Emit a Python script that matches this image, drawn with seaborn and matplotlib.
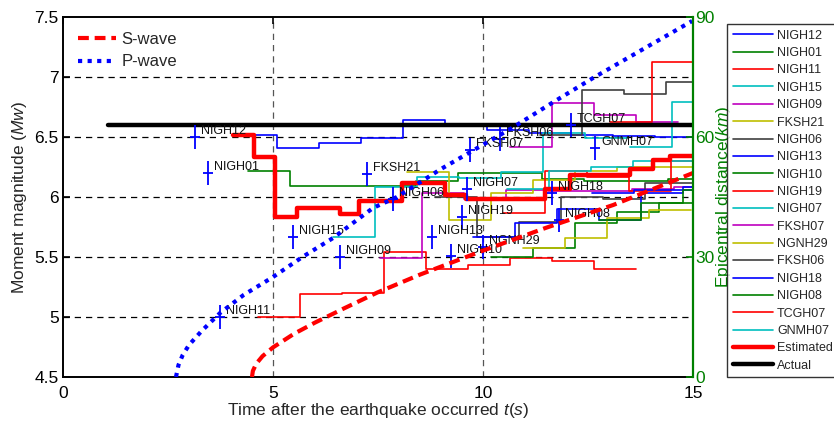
import numpy as np
import pandas as pd
import matplotlib
matplotlib.use("Agg")
import matplotlib.pyplot as plt
import seaborn as sns
from matplotlib.lines import Line2D

# ---------------- data ----------------
stations = ["NIGH12", "NIGH01", "NIGH11", "NIGH15", "NIGH09", "FKSH21", "NIGH06",
            "NIGH13", "NIGH10", "NIGH19", "NIGH07", "FKSH07", "NGNH29", "FKSH06",
            "NIGH18", "NIGH08", "TCGH07", "GNMH07"]
# first estimate time of each station (s); later estimates every 1 s
start_times = [4.10, 4.40, 4.64, 6.43, 7.55, 8.20, 8.85, 9.75, 10.20, 10.48,
               10.57, 10.64, 10.95, 11.36, 12.60, 12.76, 13.02, 13.50]
nigh12 = [6.52, 6.41, 6.45, 6.49, 6.64, 6.60, 6.56, 6.53, 6.52, 6.51, 6.50]
nigh01 = [6.22, 6.09, 6.09, 6.09, 6.13, 6.20, 6.20, 6.15, 6.13, 6.13, 6.15]
nigh11 = [5.00, 5.19, 5.20, 5.54, 5.40, 5.43, 5.49, 5.47, 5.40]
nigh15 = [5.67, 6.08, 6.17, 6.16, 6.21, 6.53, 6.49]
nigh09 = [5.49, 6.03, 5.98, 6.06, 6.05, 6.05, 6.07, 6.08]
fksh21 = [6.21, 5.81, 6.03, 6.14, 6.22, 6.25, 6.25]
nigh06 = [6.00, 5.67, 5.79, 6.00, 5.98, 6.12, 6.12]
nigh13 = [5.67, 5.78, 5.90, 5.81, 6.03, 6.08]
nigh10 = [5.50, 5.575, 5.78, 5.875, 5.95]
nigh19 = [5.87, 6.22, 6.17, 6.05, 6.30]
nigh07 = [6.07, 6.22, 6.25, 6.30, 6.30]
fksh07 = [6.42, 6.78, 6.68, 6.625]
ngnh29 = [5.575, 5.66, 5.825, 5.89]
fksh06 = [6.52, 6.89, 6.86, 6.96]
nigh18 = [6.03, 6.06, 6.06]
nigh08 = [5.81, 5.95, 6.06]
tcgh07 = [6.625, 7.125]
gnmh07 = [6.42, 6.79]
station_mags = [nigh12, nigh01, nigh11, nigh15, nigh09, fksh21, nigh06, nigh13, nigh10,
                nigh19, nigh07, fksh07, ngnh29, fksh06, nigh18, nigh08, tcgh07, gnmh07]

# station trigger markers (time, magnitude)
marker_t = [3.14, 3.45, 3.74, 5.48, 6.60, 7.24, 7.86, 8.79, 9.24, 9.50, 9.62, 9.69,
            10.00, 10.40, 11.64, 11.81, 12.10, 12.67]
marker_m = [6.50, 6.20, 5.00, 5.67, 5.50, 6.19, 5.98, 5.67, 5.51, 5.83, 6.07, 6.39,
            5.58, 6.48, 6.03, 5.81, 6.60, 6.41]
marker_err = 0.1

# estimated magnitude (steps)
est_t = [4.05, 4.55, 5.05, 5.57, 6.60, 7.05, 8.07, 9.10, 9.60, 11.48, 12.07, 13.50, 14.05, 14.45, 15.0]
est_m = [6.52, 6.33, 5.83, 5.91, 5.86, 5.97, 6.12, 6.02, 5.98, 6.07, 6.18, 6.23, 6.31, 6.34, 6.34]
# actual magnitude
act_t = [1.07, 15.0]
act_m = [6.6, 6.6]

# wave fronts: epicentral distance (km) vs time (s)
p_t = [2.69, 2.75, 2.85, 3.0, 3.3, 3.74, 4.3, 5.0, 5.7, 6.43, 7.38, 7.95, 9.0, 10.69, 11.64, 12.62, 13.9, 14.98]
p_d = [0, 3.0, 5.5, 8.0, 11.5, 16.0, 20.5, 25.0, 30.0, 34.75, 42.25, 45.0, 52.0, 62.25, 68.5, 74.75, 82.5, 89.0]
s_t = [4.5, 4.52, 4.6, 4.75, 5.0, 5.5, 6.0, 6.7, 7.48, 8.5, 10.0, 11.5, 13.1, 15.0]
s_d = [0, 1.5, 3.3, 5.2, 7.4, 10.8, 13.6, 17.2, 21.1, 25.6, 31.6, 37.3, 43.0, 51.0]

# ---------------- styling ----------------
cycle = [(0, 0, 1), (0, 0.5, 0), (1, 0, 0), (0, 0.75, 0.75), (0.75, 0, 0.75),
         (0.75, 0.75, 0), (0.25, 0.25, 0.25)]
palette = {s: cycle[i % 7] for i, s in enumerate(stations)}
green = (0, 0.5, 0)

sns.set_theme(style="white")
plt.rcParams["font.family"] = ["Liberation Sans", "DejaVu Sans"]
plt.rcParams["mathtext.fontset"] = "custom"
plt.rcParams["mathtext.rm"] = "Liberation Sans"
plt.rcParams["mathtext.it"] = "Liberation Sans:italic"

fig = plt.figure(figsize=(8.34, 4.22), dpi=100)
ax = fig.add_axes([63 / 834, 45 / 422, 630 / 834, 360 / 422])
ax.set_facecolor("white")

# station lines
rows = []
for name, st, vals in zip(stations, start_times, station_mags):
    ts = [st + i for i in range(len(vals))]
    ts.append(min(st + len(vals), 15.0))
    vs = list(vals) + [vals[-1]]
    for t, v in zip(ts, vs):
        rows.append({"station": name, "t": t, "M": v})
df = pd.DataFrame(rows)
sns.lineplot(data=df, x="t", y="M", hue="station", hue_order=stations, palette=palette,
             estimator=None, sort=False, drawstyle="steps-post", lw=1.2, legend=False, ax=ax)

sns.lineplot(x=est_t, y=est_m, color="red", lw=3.2, drawstyle="steps-post",
             estimator=None, sort=False, ax=ax)
sns.lineplot(x=act_t, y=act_m, color="black", lw=3.2, estimator=None, sort=False, ax=ax)

# trigger markers
ax.errorbar(marker_t, marker_m, yerr=marker_err, fmt="none", ecolor="blue", elinewidth=1.3, capsize=0)
ax.plot(marker_t, marker_m, ls="none", marker="_", ms=7, mew=1.3, color="blue")
for name, x, y in zip(stations, marker_t, marker_m):
    ax.annotate(name, (x, y), xytext=(6, 6), textcoords="offset pixels", fontsize=9,
                va="center", ha="left", color="#111111")

ax.set_xlim(0, 15)
ax.set_ylim(4.5, 7.5)
ax.set_xticks([0, 5, 10, 15])
ax.set_yticks([4.5, 5, 5.5, 6, 6.5, 7, 7.5])
ax.set_yticklabels(["4.5", "5", "5.5", "6", "6.5", "7", "7.5"])
for yv in [5, 5.5, 6, 6.5, 7]:
    ax.axhline(yv, color="black", lw=0.9, ls=(0, (5, 4)), zorder=0.5)
for xv in [5, 10]:
    ax.axvline(xv, color="#555555", lw=0.9, ls=(0, (5, 4)), zorder=0.5)
ax.tick_params(direction="in", length=5, width=1.2, labelsize=12.5, top=True, right=False,
               colors="black")
ax.tick_params(axis="x", pad=6.5)
ax.tick_params(axis="y", pad=3)
for sp in ["left", "bottom", "top"]:
    ax.spines[sp].set_linewidth(1.4)
    ax.spines[sp].set_color("black")
ax.spines["right"].set_visible(False)
ax.set_xlabel(r"Time after the earthquake occurred $\mathit{t(s)}$", fontsize=12.5, labelpad=0)
ax.set_ylabel(r"Moment magnitude ($\mathit{Mw}$)", fontsize=12.5, labelpad=4)

# right axis: epicentral distance
ax2 = ax.twinx()
ax2.set_ylim(0, 90)
ax2.set_yticks([0, 30, 60, 90])
sns.lineplot(x=s_t, y=s_d, color="red", lw=3.0, linestyle=(0, (2.6, 1.4)), estimator=None,
             sort=False, ax=ax2, label="S-wave")
sns.lineplot(x=p_t, y=p_d, color="blue", lw=3.0, linestyle=(0, (1, 1.3)), estimator=None,
             sort=False, ax=ax2, label="P-wave")
ax2.set_xlim(0, 15)
for sp in ["left", "bottom", "top"]:
    ax2.spines[sp].set_visible(False)
ax2.spines["right"].set_color(green)
ax2.spines["right"].set_linewidth(1.6)
ax2.tick_params(direction="in", length=5, width=1.2, labelsize=12.5, colors=green, pad=1.5)
ax2.set_ylabel(r"Epicentral distance($\mathit{km}$)", fontsize=12.5, color=green, labelpad=0)
leg1 = ax2.legend(loc="upper left", bbox_to_anchor=(0.0, 1.0), frameon=False, fontsize=12,
                  handlelength=2.3, handletextpad=0.3, labelspacing=0.45, borderaxespad=0.5)

# station legend
handles = [Line2D([], [], color=palette[s], lw=1.2) for s in stations]
handles += [Line2D([], [], color="red", lw=3.2), Line2D([], [], color="black", lw=3.2)]
labels = stations + ["Estimated", "Actual"]
leg = fig.legend(handles, labels, loc="upper left", bbox_to_anchor=(727 / 834, 1 - 24 / 422),
                 frameon=True, fancybox=False, edgecolor="black", fontsize=9,
                 handlelength=3.2, handletextpad=0.35, labelspacing=0.43, borderpad=0.45,
                 borderaxespad=0)
leg.get_frame().set_linewidth(1.0)

fig.savefig("out.png", dpi=100, facecolor="white")
